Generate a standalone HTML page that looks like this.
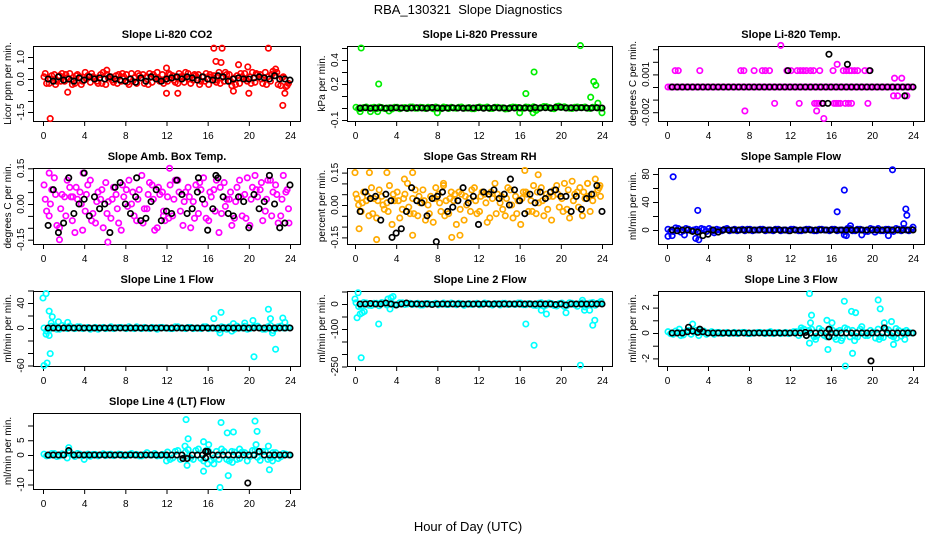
<!DOCTYPE html>
<html><head><meta charset="utf-8"><style>
body{margin:0;background:#fff}
svg{display:block}
text{font-family:"Liberation Sans",sans-serif;fill:#000}
</style></head><body>
<svg id="chart" width="936" height="540" viewBox="0 0 936 540" xmlns="http://www.w3.org/2000/svg">
<rect width="936" height="540" fill="#fff"/>
<text x="468" y="14" font-size="13" text-anchor="middle" xml:space="preserve">RBA_130321  Slope Diagnostics</text>
<text x="468" y="531" font-size="13" text-anchor="middle">Hour of Day (UTC)</text>
<g id="panels"></g>
</svg>
<script>
// shared tick labels for hour axis
const hourTicks = [0,4,8,12,16,20,24];

// P1 CO2
const co2A = [0.1,-0.2,0.2,0.15,-0.1,0.25,-0.2,0.1,0.3,-0.15,0.05,0.2,-0.25,0.1,0.15,-0.1,0.2,0.25,-0.2,0.05,0.1,-0.15,0.3,0.2,-0.1,0.15,-0.2,0.1,0.25,-0.05,0.2,0.1,-0.25,0.15,0.3,-0.1,0.2,0.05,-0.2,0.25,0.1,-0.15,0.2,0.3,-0.1,0.15,-0.3,-0.35];
const co2B = [-0.2,0.15,-0.1,0.25,0.05,-0.25,0.2,-0.1,0.15,0.1,-0.2,0.3,0.05,-0.15,0.2,0.1,-0.25,0.05,0.15,-0.2,0.25,0.1,-0.1,-0.05,0.2,-0.15,0.1,0.3,-0.2,0.15,-0.1,0.25,0.1,-0.15,0.05,0.2,-0.3,0.15,0.1,-0.1,0.3,0.2,-0.2,0.1,0.35,-0.25,0.1,-0.2];
const co2C = [0.25,0.0,-0.25,-0.1,0.2,-0.05,0.15,-0.25,0.0,0.25,-0.1,-0.2,0.2,-0.05,-0.2,0.25,-0.15,-0.1,0.25,0.2,-0.25,0.2,0.0,-0.2,0.25,-0.05,0.25,-0.15,0.0,0.2,-0.25,-0.1,0.2,-0.05,-0.2,0.3,-0.1,-0.25,0.25,0.0,-0.2,0.25,0.0,-0.25,0.2,0.3,0.05,-0.3];
const co2Black = [0.0,-0.1,0.1,-0.05,0.0,-0.1,0.05,-0.05,0.1,0.0,0.05,0.0,0.1,0.0,-0.05,-0.1,0.0,-0.15,0.05,-0.1,0.1,0.0,-0.1,0.0,0.05,0.1,0.0,0.1,0.05,-0.05,0.1,0.0,-0.05,0.15,0.1,-0.1,0.0,0.05,0.0,0.0,0.05,0.1,0.05,0.0,0.15,0.0,0.0,-0.05];
const co2Out = [[0.7,-1.8],[16.6,1.4],[17.4,1.4],[21.9,1.4],[16.8,0.8],[17.3,0.75],[19,0.65],[19.9,0.55],[12,0.5],[6.2,0.4],[2.4,-0.6],[12,-0.65],[13.1,-0.65],[20,-0.65],[23.3,-1.2],[23.5,-0.65],[18.5,-0.55],[22.6,0.45]];
const co2BlackOut = [];

// P2 pressure
const presA = [0.006,-0.004,0.008,0.002,-0.006,0.004,0.0,-0.008,0.006,0.002,-0.004,0.008,-0.002,0.004,0.006,-0.006,0.002,0.008,-0.004,0.0,0.006,-0.002,0.004,-0.006,0.008,0.002,-0.004,0.006,0.0,-0.008,0.004,0.006,-0.002,0.008,-0.006,0.002,0.004,0.01,-0.004,0.012,0.006,0.002,-0.004,0.008,0.004,-0.002,0.006,0.0];
const presB = [-0.006,0.004,-0.002,0.006,0.008,-0.004,0.002,0.006,-0.006,0.004,0.008,-0.002,0.006,-0.004,0.002,0.008,-0.006,0.004,0.006,-0.002,0.008,0.0,-0.006,0.004,0.002,0.008,-0.004,0.006,0.002,-0.006,0.008,0.004,-0.002,0.006,0.01,-0.004,0.012,0.004,-0.006,0.008,0.01,-0.002,0.006,0.004,0.008,-0.004,0.006,0.002];
const presC = [];
const presBlack = [0.0,0.002,-0.002,0.0,0.002,-0.002,0.0,0.002,0.0,-0.002,0.0,0.002,0.0,-0.002,0.004,0.0,-0.002,0.0,0.002,0.0,-0.002,0.0,0.0,0.002,-0.002,0.0,0.002,0.0,0.0,-0.002,0.0,0.002,0.0,-0.002,0.004,0.0,0.002,0.0,0.004,0.006,0.0,0.002,0.0,0.002,0.0,0.0,0.002,0.0];
const presOut = [[0.6,0.5],[2.3,0.2],[0.5,-0.03],[1.5,-0.03],[2.2,-0.03],[3.3,-0.025],[8,-0.04],[16,-0.04],[16.6,0.12],[17.4,0.3],[17.3,-0.04],[17.6,-0.02],[21.9,0.52],[23.2,0.22],[23.4,0.19],[22.9,0.09],[23.6,0.04],[24,-0.04],[19.8,0.015],[18.6,0.01]];
const presBlackOut = [];

// P3 Li-820 temperature
const tempA = [0,0,0,0,0,0,0,0,0,0,0,0,0,0,0,0,0,0,0,0,0,0,0,0,0,0,0,0,0,0,0,0,0,0,0,0,0,0,0,0,0,0,0,0,0,0,0,0];
const tempB = [0,0,0,0,0,0,0,0,0,0,0,0,0,0,0,0,0,0,0,0,0,0,0,0,0,0,0,0,0,0,0,0,0,0,0,0,0,0,0,0,0,0,0,0,0,0,0,0];
const tempC = [];
const tempBlack = [0,0,0,0,0,0,0,0,0,0,0,0,0,0,0,0,0,0,0,0,0,0,0,0,0,0,0,0,0,0,0,0,0,0,0,0,0,0,0,0,0,0,0,0,0,0,0,0];
const tempOut = [[0.8,0.0013],[1.1,0.0013],[3.2,0.0013],[7.2,0.0013],[7.5,0.0013],[8.5,0.0013],[9.3,0.0013],[9.6,0.0013],[10,0.0013],[11.7,0.0013],[12.1,0.0013],[12.7,0.0013],[13,0.0013],[13.3,0.0013],[13.6,0.0013],[14,0.0013],[14.3,0.0013],[14.9,0.0013],[16.2,0.0013],[17.2,0.0013],[17.5,0.0013],[17.8,0.0013],[18,0.0013],[18.3,0.0013],[18.6,0.0013],[19.3,0.0013],[19.7,0.0013],[10.5,-0.0013],[12.9,-0.0013],[14.4,-0.0013],[14.6,-0.0013],[14.8,-0.0013],[15.1,-0.0013],[16.3,-0.0013],[16.5,-0.0013],[16.7,-0.0013],[16.9,-0.0013],[17.4,-0.0013],[17.7,-0.0013],[18,-0.0013],[19.6,-0.0013],[11.1,0.0033],[16.6,0.0018],[7.6,-0.0019],[14.6,-0.0019],[15.3,-0.0025],[22.2,0.0007],[22.9,0.0007],[22.1,-0.0007],[22.5,-0.0007],[23.4,-0.0007]];
const tempBlackOut = [[15.8,0.0026],[17.6,0.0018],[11.8,0.0013],[19.8,0.0013],[15.2,-0.0013],[15.7,-0.0013],[23.2,-0.0007]];

// P4 ambient box temperature
const ambA = [0.08,-0.05,0.11,-0.1,0.03,0.07,-0.12,0.05,-0.03,0.1,-0.08,0.02,0.09,-0.06,0.04,-0.11,0.06,0.0,-0.07,0.12,-0.02,0.08,-0.1,0.05,0.03,-0.05,0.1,-0.09,0.07,0.01,-0.04,0.11,-0.07,0.06,-0.12,0.09,0.02,-0.06,0.1,0.04,-0.09,0.12,0.06,-0.03,0.1,0.08,-0.05,0.05];
const ambB = [-0.03,0.06,-0.09,0.04,0.1,-0.07,0.02,-0.11,0.08,-0.04,0.05,-0.1,0.01,0.07,-0.08,0.03,0.1,-0.05,0.06,-0.02,0.09,-0.11,0.04,-0.07,0.08,0.1,-0.03,0.05,-0.1,0.08,0.06,-0.06,0.03,0.1,-0.04,0.02,-0.09,0.07,-0.05,0.11,0.07,0.03,-0.07,0.1,0.05,-0.08,0.12,-0.02];
const ambC = [0.02,0.0,0.04,-0.02,-0.05,0.03,0.07,0.0,0.04,-0.07,0.01,0.06,-0.04,0.02,-0.02,0.08,-0.01,0.05,0.02,-0.08,0.04,0.02,0.07,-0.03,-0.06,0.02,0.05,0.01,0.03,-0.06,0.09,0.0,0.05,-0.03,0.07,-0.01,0.05,0.01,0.03,-0.06,0.02,0.06,0.09,0.02,-0.05,0.04,0.02,0.06];
const ambBlack = [-0.09,0.06,-0.12,-0.08,0.11,-0.04,0.0,0.02,-0.05,0.03,-0.02,0.0,-0.12,0.07,0.09,0.0,-0.04,0.03,-0.07,-0.06,0.01,0.06,-0.07,-0.03,-0.04,0.1,0.04,-0.04,-0.02,0.05,0.02,-0.11,-0.02,0.11,0.03,-0.04,-0.05,0.03,0.01,-0.1,0.04,-0.02,0.01,0.12,0.0,-0.1,-0.08,0.08];
const ambOut = [[0.6,0.13],[1.6,-0.15],[3.9,0.13],[6.3,-0.16],[12.3,0.15],[11.7,-0.05],[2.9,0.03],[23.9,-0.08]];
const ambBlackOut = [[4,0.13],[9.1,0.11],[15.1,0.11],[16.8,0.12]];

// P5 gas stream RH
const rhA = [0.05,-0.03,0.02,0.08,-0.06,0.04,0.01,-0.09,0.06,-0.02,0.1,0.03,-0.05,0.07,0.0,-0.08,0.05,0.09,-0.04,0.02,0.06,-0.07,0.03,0.08,-0.03,0.05,-0.06,0.1,0.01,-0.05,0.07,0.04,-0.09,0.06,0.02,-0.04,0.08,0.05,-0.07,0.09,0.03,-0.02,0.11,0.06,-0.05,0.1,0.02,0.07];
const rhB = [0.0,0.06,-0.05,0.03,0.07,-0.02,0.09,0.02,-0.06,0.05,-0.04,0.07,0.01,-0.07,0.04,0.08,-0.03,0.02,0.06,-0.09,0.05,0.0,0.07,-0.04,0.06,-0.08,0.03,0.05,-0.02,0.08,-0.06,0.02,0.06,-0.03,0.09,0.01,-0.05,0.04,0.07,-0.01,0.1,-0.06,0.05,0.08,0.03,-0.03,0.12,0.04];
const rhC = [0.03,0.01,0.04,-0.04,0.02,0.0,-0.03,0.05,0.02,0.03,-0.01,-0.04,0.04,0.02,-0.04,0.03,0.01,-0.05,0.03,0.05,-0.02,0.04,-0.03,0.02,0.04,0.01,0.06,-0.04,0.04,0.03,0.0,-0.04,0.03,0.05,-0.03,0.06,0.02,-0.02,0.04,0.05,-0.03,0.07,0.02,-0.01,0.06,0.04,0.05,0.08];
const rhBlack = [-0.03,0.06,0.03,0.04,-0.07,0.05,0.02,-0.13,-0.11,-0.03,0.08,0.02,0.01,-0.05,0.03,0.04,0.06,-0.03,-0.01,0.02,0.08,0.01,0.04,-0.09,0.06,0.05,0.07,0.03,0.05,0.0,0.07,0.02,-0.04,0.05,0.01,0.06,0.03,0.06,0.07,0.04,0.04,-0.03,0.04,-0.02,0.03,0.05,0.09,-0.03];
const rhOut = [[0,0.15],[1.4,0.15],[3.1,0.15],[5.6,0.15],[0.4,-0.11],[2.1,-0.16],[5.6,-0.14],[9.4,-0.15],[10.2,-0.14],[16.5,0.16],[22.6,0.1],[23.8,0.09],[4.8,0.12],[8.6,0.1],[17.8,0.14]];
const rhBlackOut = [[7.9,-0.17],[3.6,-0.15],[15.1,0.12]];

// P6 sample flow
const sampA = [1,-2,2,-1,1,0,-1,1,2,-1,0,1,-1,1,0,-1,1,0,1,-1,0,1,-1,0,1,0,-1,1,0,-1,1,0,1,-1,0,2,-1,1,0,-2,1,2,-1,1,-2,1,2,-1];
const sampB = [-2,3,-3,2,-1,1,2,-2,0,1,-1,2,0,-1,1,1,-1,0,1,0,-1,1,0,-1,1,-1,0,1,-1,1,0,-1,1,0,-2,2,-1,1,-2,2,0,-1,1,0,2,-1,0,1];
const sampC = [];
const sampBlack = [0,-1,0,0,-2,-3,-8,-6,0,-3,0,0,0,0,0,0,0,0,0,0,0,0,0,-1,0,0,0,0,0,0,0,0,0,0,0,0,0,0,0,0,0,0,0,0,0,0,0,0];
const sampOut = [[0.6,76],[3,28],[16.6,26],[17.3,57],[22,86],[23.3,30],[23.4,21],[23.1,9],[24,4],[2.8,-12],[3.1,-14],[0.1,-9],[0.5,-8],[1.7,-7],[21.6,-8],[17.5,-8],[17.3,-7],[17.9,6],[19,-7],[4.6,-4],[20.3,-3]];
const sampBlackOut = [];

// P7 line 1 flow
const l1A = [0,-3,2,-2,1,3,-1,2,0,-2,1,0,-1,2,0,1,-1,0,2,-1,0,1,-2,1,0,-1,2,0,1,-1,0,2,-1,0,-3,1,2,-2,0,3,-1,2,0,-2,4,-1,3,0];
const l1B = [-5,3,-2,4,-1,0,2,-1,1,0,-2,1,0,-1,1,0,2,-1,0,1,-1,0,1,0,-1,2,0,-1,1,0,-1,2,0,-1,2,-2,-5,3,0,-2,1,3,-2,2,-4,2,0,1];
const l1C = [];
const l1Black = [0,0,0,0,0,0,0,0,0,0,0,0,0,0,0,0,0,0,0,0,0,0,0,0,0,0,0,0,0,0,0,0,0,0,0,0,0,0,0,0,0,0,0,0,0,0,0,0];
const l1Out = [[0,48],[0.3,55],[0.6,27],[0.9,18],[0.8,8],[1.5,10],[2.4,9],[0.1,-60],[0.4,-56],[0.7,-41],[0.3,-10],[0.6,-12],[16.6,15],[17.3,25],[17.2,-8],[18.5,7],[19.6,8],[20.4,12],[20.5,-46],[21.9,30],[22.1,15],[22.3,-8],[22.6,-34],[23.3,16],[23.5,9]];
const l1BlackOut = [];

// P8 line 2 flow
const l2A = [5,-8,4,-6,3,6,-4,2,-3,5,0,-2,3,-4,2,0,-3,4,-2,1,3,-5,2,0,-3,4,-1,2,-4,3,0,-2,4,-3,1,-6,5,-4,2,-8,4,-6,3,-9,5,-4,6,3];
const l2B = [-10,6,-5,3,-7,4,0,-3,5,-2,3,1,-4,2,-1,3,0,-2,4,-3,1,0,-2,3,-1,2,-4,1,3,-2,0,4,-3,2,-5,3,-9,4,-6,2,-10,5,-3,2,-12,4,-5,2];
const l2C = [];
const l2Black = [0,0,2,0,0,4,0,-4,0,4,0,0,0,0,-2,0,0,0,0,0,0,0,0,0,0,0,0,0,0,0,0,0,0,0,0,0,0,0,-2,0,-4,0,0,0,0,0,0,0];
const l2Out = [[0,20],[0.3,45],[0.2,-55],[0.5,-40],[0.7,-35],[0.9,-30],[0.6,-215],[2.3,-80],[3.2,20],[3.5,25],[3.7,30],[3.4,-20],[16.6,-80],[17.4,-165],[18.1,-25],[18.6,-40],[20.5,-35],[21.9,-245],[22.1,15],[22.3,-25],[22.8,-25],[23.1,-85],[23.3,-65],[23.9,10]];
const l2BlackOut = [];

// P9 line 3 flow
const l3A = [0.1,-0.1,0.05,-0.15,0.2,0.1,-0.2,0.15,0.0,-0.1,0.05,0.0,-0.05,0.05,0.0,0.05,-0.05,0.0,0.05,-0.05,0.1,0.0,-0.05,0.05,0.0,0.1,0.2,-0.2,0.3,-0.25,0.2,-0.3,0.25,0.1,-0.4,0.3,0.2,-0.3,0.1,-0.2,0.05,0.3,-0.35,0.25,-0.3,0.2,0.1,0.05];
const l3B = [-0.05,0.15,-0.2,0.1,-0.1,0.2,0.05,-0.1,0.1,0.05,-0.05,0.05,0.0,-0.05,0.05,-0.05,0.0,0.05,0.0,0.05,-0.05,0.05,0.0,-0.05,0.1,-0.2,0.3,0.2,-0.3,0.35,-0.2,0.25,-0.3,0.2,0.4,-0.3,-0.25,0.3,-0.2,0.2,-0.4,-0.3,0.3,-0.2,0.35,-0.25,0.2,0.0];
const l3C = [];
const l3Black = [0,0,0,0.1,0.15,0.05,0.1,0,0,0,0,0,0,0,0,0,0,0,0,0,0,0,0,0,0,0,0.05,0,0,0,0,0,0,0,0,0,0,0,0,0,0,0,0,0,0,0,0,0];
const l3Out = [[1.2,0.3],[2.5,0.7],[3.2,0.2],[13.9,3.1],[14.1,1.4],[14.0,0.8],[13.9,-0.8],[15.6,1.0],[15.7,-1.3],[16.1,0.8],[16.5,-0.5],[17.3,2.5],[17.4,-2.6],[18.0,1.7],[18.1,-1.6],[18.4,1.6],[18.3,-0.6],[19.0,0.5],[20.6,2.6],[20.8,1.9],[20.7,-0.5],[21.2,0.8],[21.9,0.9],[22.1,-0.9],[22.4,-0.4],[13.1,0.4],[14.5,-0.5],[17.0,-0.6],[23.2,-0.5]];
const l3BlackOut = [[2.1,0.45],[3.2,0.3],[15.8,0.3],[15.8,-0.3],[19.9,-2.2],[21.2,0.4],[13.6,-0.2]];

// P10 line 4 (LT) flow
const l4A = [0.3,-0.2,0.5,-0.3,0.2,1,-0.5,0.3,0,-0.4,0.2,0,-0.2,0.3,0,0.2,-0.2,0.5,0.2,-0.3,0.8,0,-0.3,0.2,1,-1,1.5,-1.2,1.8,-1.5,2,-2,1.2,-1,-1.5,1.2,-2,1,-1.2,0.8,-0.5,1.5,-1.8,1.2,-1,0.8,-0.6,0.3];
const l4B = [-0.3,0.5,-0.5,0.4,-1,0.2,0.5,-0.2,0.3,0.2,-0.3,0.4,0.2,-0.2,0.3,-0.3,0.2,0,-0.3,0.2,0,0.5,-0.2,0,-1.5,1.2,-1.5,1,-1,1.5,-1.2,1.5,-1.8,1.2,2,-1.5,1.2,-1.5,1,-2,1.5,-0.8,1.2,-1.5,0.8,-1.2,0.5,0];
const l4C = [];
const l4Black = [0,0,0,0,1.5,0,0,0,0,0,0,0,0,0,0,0,0,0,0,0,0,0,0,0,0,0,0,-1.2,0,0,0,1.2,0,0,0,0,0,0,0,0,0,1.2,0,0,0,0,0,0];
const l4Out = [[2.5,2.5],[13.9,12],[14.1,5.5],[13.8,3],[14.0,-3.5],[15.6,4.5],[15.6,-5.5],[16.1,3.5],[16.0,-3],[16.6,-3],[17.2,-11],[17.3,11],[17.9,7.5],[18.5,7.8],[18.0,-7],[18.4,-2.5],[19.1,2],[20.6,11.5],[20.8,8],[20.7,3.5],[21.9,3],[22.0,-5],[22.3,-2],[12,-2],[4,-1.5]];
const l4BlackOut = [[15.8,1.2],[15.8,-1],[19.9,-9.5],[13.6,-1.2]];

const panels = [
 {name:'co2',title:'Slope Li-820 CO2',ylab:'Licor ppm per min.',col:'#ff0000',box:[33,46,300,121],xr:[43,290],ref:[0,79,22],ticks:[-1.5,-1,-0.5,0,0.5,1],labels:[[-1.5,'-1.5'],[0,'0.0'],[1,'1.0']],A:co2A,B:co2B,C:co2C,K:co2Black,O:co2Out,KO:co2BlackOut},
 {name:'pressure',title:'Slope Li-820 Pressure',ylab:'kPa per min.',col:'#00ee00',box:[347,46,612,121],xr:[355,602],ref:[0,108,120],ticks:[-0.1,0,0.1,0.2,0.3,0.4,0.5],labels:[[-0.1,'-0.1'],[0.2,'0.2'],[0.4,'0.4']],A:presA,B:presB,C:presC,K:presBlack,O:presOut,KO:presBlackOut},
 {name:'li820-temp',title:'Slope Li-820 Temp.',ylab:'degrees C per min.',col:'#ff00ff',box:[658,46,924,121],xr:[667,913],ref:[0,87,12600],ticks:[-0.002,-0.001,0,0.001,0.002,0.003],labels:[[-0.002,'-0.002'],[0.001,'0.001']],A:tempA,B:tempB,C:tempC,K:tempBlack,O:tempOut,KO:tempBlackOut},
 {name:'amb-box-temp',title:'Slope Amb. Box Temp.',ylab:'degrees C per min.',col:'#ff00ff',box:[33,168,300,244],xr:[43,290],ref:[0,204,238],ticks:[-0.15,-0.1,-0.05,0,0.05,0.1,0.15],labels:[[-0.15,'-0.15'],[0,'0.00'],[0.15,'0.15']],A:ambA,B:ambB,C:ambC,K:ambBlack,O:ambOut,KO:ambBlackOut},
 {name:'gas-stream-rh',title:'Slope Gas Stream RH',ylab:'percent per min.',col:'#ffaa00',box:[347,168,612,244],xr:[355,602],ref:[0,205,216],ticks:[-0.15,-0.1,-0.05,0,0.05,0.1,0.15],labels:[[-0.15,'-0.15'],[0,'0.00'],[0.15,'0.15']],A:rhA,B:rhB,C:rhC,K:rhBlack,O:rhOut,KO:rhBlackOut},
 {name:'sample-flow',title:'Slope Sample Flow',ylab:'ml/min per min.',col:'#0000ff',box:[658,168,924,244],xr:[667,913],ref:[0,230,0.7],ticks:[0,20,40,60,80],labels:[[0,'0'],[40,'40'],[80,'80']],A:sampA,B:sampB,C:sampC,K:sampBlack,O:sampOut,KO:sampBlackOut},
 {name:'line1-flow',title:'Slope Line 1 Flow',ylab:'ml/min per min.',col:'#00ffff',box:[33,291,300,366],xr:[43,290],ref:[0,328,0.625],ticks:[-60,-40,-20,0,20,40,60],labels:[[-60,'-60'],[0,'0'],[40,'40']],A:l1A,B:l1B,C:l1C,K:l1Black,O:l1Out,KO:l1BlackOut},
 {name:'line2-flow',title:'Slope Line 2 Flow',ylab:'ml/min per min.',col:'#00ffff',box:[347,291,612,366],xr:[355,602],ref:[0,304,0.25],ticks:[-250,-200,-150,-100,-50,0,50],labels:[[-250,'-250'],[-100,'-100'],[0,'0']],A:l2A,B:l2B,C:l2C,K:l2Black,O:l2Out,KO:l2BlackOut},
 {name:'line3-flow',title:'Slope Line 3 Flow',ylab:'ml/min per min.',col:'#00ffff',box:[658,291,924,366],xr:[667,913],ref:[0,333,12.7],ticks:[-2,-1,0,1,2,3],labels:[[-2,'-2'],[0,'0'],[2,'2']],A:l3A,B:l3B,C:l3C,K:l3Black,O:l3Out,KO:l3BlackOut},
 {name:'line4-flow',title:'Slope Line 4 (LT) Flow',ylab:'ml/min per min.',col:'#00ffff',box:[33,413,300,489],xr:[43,290],ref:[0,455,2.95],ticks:[-10,-5,0,5,10],labels:[[-10,'-10'],[0,'0'],[5,'5']],A:l4A,B:l4B,C:l4C,K:l4Black,O:l4Out,KO:l4BlackOut}
];

const NS='http://www.w3.org/2000/svg';
const root=document.getElementById('panels');
function mk(tag,attrs,parent){const e=document.createElementNS(NS,tag);for(const k in attrs)e.setAttribute(k,attrs[k]);parent.appendChild(e);return e;}

panels.forEach(p=>{
  const g=mk('g',{},root);
  
  
  const [bx0,by0,bx1,by1]=p.box;
  const xs=h=>p.xr[0]+(p.xr[1]-p.xr[0])*h/24;
  const ys=v=>p.ref[1]-(v-p.ref[0])*p.ref[2];
  const cx=Math.round((bx0+bx1)/2);
  const t=mk('text',{x:cx,y:by0-8,'font-size':11,'font-weight':'bold','text-anchor':'middle'},g);
  t.textContent=p.title;
  
  
  const xa=mk('g',{stroke:'#000','stroke-width':1},g);
  
  
  mk('line',{x1:xs(0),x2:xs(24),y1:by1+0.5,y2:by1+0.5},xa);
  hourTicks.forEach(h=>{
    mk('line',{x1:xs(h)+0.5,x2:xs(h)+0.5,y1:by1,y2:by1+5},xa);
    const tl=mk('text',{x:xs(h)+0.5,y:by1+18,'font-size':10,'text-anchor':'middle',stroke:'none'},g);
    tl.textContent=h;
    
    
  });
  const ya=mk('g',{stroke:'#000','stroke-width':1},g);
  
  
  const tv=p.ticks.map(ys);
  mk('line',{x1:bx0+0.5,x2:bx0+0.5,y1:Math.min(...tv),y2:Math.max(...tv)},ya);
  p.ticks.forEach(v=>mk('line',{x1:bx0-5,x2:bx0,y1:ys(v)+0.5,y2:ys(v)+0.5},ya));
  p.labels.forEach(([v,s])=>{
    const tl=mk('text',{x:0,y:0,'font-size':10,'text-anchor':'middle',transform:`translate(${bx0-9},${ys(v)}) rotate(-90)`},g);
    tl.textContent=s;
    
    
  });
  const yl=mk('text',{x:0,y:0,'font-size':10,'text-anchor':'middle',transform:`translate(${bx0-22},${(by0+by1)/2}) rotate(-90)`},g);
  yl.textContent=p.ylab;
  
  
  const bo=mk('rect',{x:bx0+0.5,y:by0+0.5,width:bx1-bx0,height:by1-by0,fill:'none',stroke:'#000','stroke-width':1},g);
  
  
  const pts=mk('g',{fill:'none','stroke-width':1.7},g);
  
  
  const dot=(h,v,c,nm)=>{
    const e=mk('circle',{cx:xs(h),cy:ys(v),r:2.7,stroke:c},pts);
    
    
  };
  p.A.forEach((v,i)=>dot(i*0.5+0.1,v,p.col,'colored-point'));
  p.B.forEach((v,i)=>dot(i*0.5+0.35,v,p.col,'colored-point'));
  p.C.forEach((v,i)=>dot(i*0.5+0.22,v,p.col,'colored-point'));
  p.O.forEach(([h,v])=>dot(h,v,p.col,'colored-outlier'));
  p.K.forEach((v,i)=>dot(i*0.5+0.5,v,'#000','black-point'));
  p.KO.forEach(([h,v])=>dot(h,v,'#000','black-outlier'));
});
</script>
</body></html>
